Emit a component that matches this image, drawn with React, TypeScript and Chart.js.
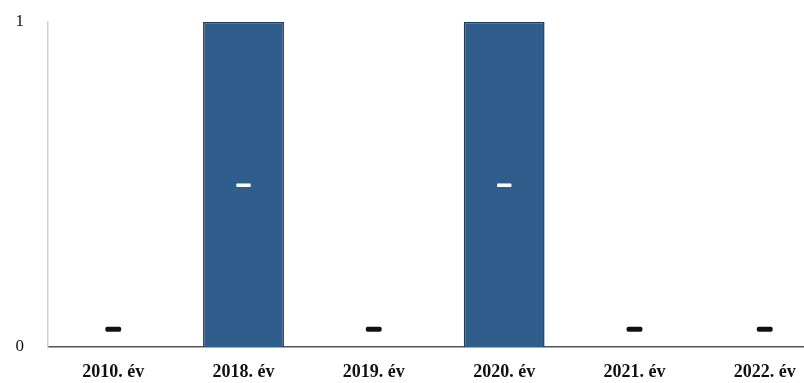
import React, { useEffect, useRef } from "react";
import { Chart, registerables } from "chart.js";

Chart.register(...registerables);

const categories = ["2010. év", "2018. év", "2019. év", "2020. év", "2021. év", "2022. év"];
const values = [0, 1, 0, 1, 0, 0];
const dataLabels = ["–", "–", "–", "–", "–", "–"];
const yTicks = [0, 1];

const labelPlugin = {
  id: "dashLabels",
  afterDatasetsDraw(chart: any) {
    const ctx = chart.ctx;
    const meta = chart.getDatasetMeta(0);
    ctx.save();
    ctx.font = "bold 24px 'Liberation Serif', serif";
    ctx.textAlign = "center";
    ctx.textBaseline = "middle";
    ctx.lineJoin = "round";
    meta.data.forEach((bar: any, i: number) => {
      const v = values[i];
      const color = v === 0 ? "#111" : "#ffffff";
      const y = v === 0 ? bar.base - 18 : (bar.y + bar.base) / 2;
      ctx.fillStyle = color;
      ctx.strokeStyle = color;
      ctx.lineWidth = v === 0 ? 3.5 : 2;
      ctx.strokeText(dataLabels[i], bar.x, y);
      ctx.fillText(dataLabels[i], bar.x, y);
    });
    ctx.restore();
  },
};

export default function App() {
  const ref = useRef<HTMLCanvasElement>(null);
  useEffect(() => {
    if (!ref.current) return;
    const chart = new Chart(ref.current, {
      type: "bar",
      data: {
        labels: categories,
        datasets: [
          {
            data: values,
            backgroundColor: "#2f5d8c",
            borderColor: "#1d3a58",
            borderWidth: 1.5,
            barPercentage: 0.62,
            categoryPercentage: 1,
          },
        ],
      },
      options: {
        responsive: false,
        animation: false,
        layout: { padding: { top: 22, left: 0, right: 0, bottom: 0 } },
        plugins: { legend: { display: false }, tooltip: { enabled: false } },
        scales: {
          x: {
            grid: { display: false, drawTicks: false },
            border: { display: true, color: "#555", width: 1.5 },
            ticks: {
              padding: 15,
              color: "#111",
              font: { family: "'Liberation Serif', serif", size: 18, weight: "bold" },
              maxRotation: 0,
              autoSkip: false,
            },
            afterFit: (s: any) => {
              s.height = 36;
              s.paddingLeft = 0;
              s.paddingRight = 0;
            },
          },
          y: {
            min: 0,
            max: 1,
            grid: { display: false, drawTicks: false },
            border: { display: true, color: "#d0d0d0", width: 1.5 },
            afterBuildTicks: (s: any) => {
              s.ticks = yTicks.map((v) => ({ value: v }));
            },
            ticks: {
              padding: 24,
              color: "#111",
              font: { family: "'Liberation Serif', serif", size: 17 },
            },
            afterFit: (s: any) => {
              s.width = 48;
              s.paddingTop = 0;
              s.paddingBottom = 0;
            },
          },
        },
      },
      plugins: [labelPlugin],
    });
    return () => chart.destroy();
  }, []);
  return (
    <div
      style={{
        position: "absolute",
        left: 0,
        top: 0,
        width: 804,
        height: 383,
        overflow: "hidden",
        background: "#fff",
      }}
    >
      <canvas ref={ref} width={830} height={383} style={{ width: 830, height: 383 }} />
    </div>
  );
}
